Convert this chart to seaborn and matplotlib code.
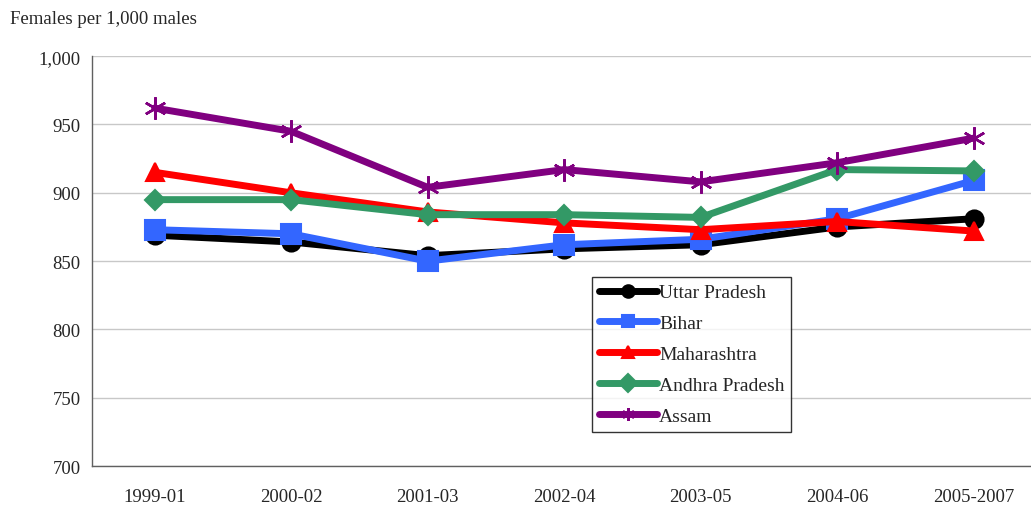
import pandas as pd
import numpy as np
import seaborn as sns
import matplotlib.pyplot as plt
from matplotlib.ticker import FuncFormatter

# Sex ratio values
periods = ['1999-01', '2000-02', '2001-03', '2002-04', '2003-05', '2004-06', '2005-2007']
uttar_pradesh = [869, 864, 854, 859, 862, 875, 881]
bihar = [873, 870, 850, 862, 866, 881, 909]
maharashtra = [915, 900, 886, 878, 873, 879, 872]
andhra_pradesh = [895, 895, 884, 884, 882, 917, 916]
assam = [962, 945, 904, 917, 908, 922, 940]

states = ['Uttar Pradesh', 'Bihar', 'Maharashtra', 'Andhra Pradesh', 'Assam']
values = [uttar_pradesh, bihar, maharashtra, andhra_pradesh, assam]

rows = []
for state, vals in zip(states, values):
    for p, v in zip(periods, vals):
        rows.append({'period': p, 'state': state, 'ratio': v})
df = pd.DataFrame(rows)

colors = {'Uttar Pradesh': '#000000', 'Bihar': '#3366FF', 'Maharashtra': '#FF0000',
          'Andhra Pradesh': '#339966', 'Assam': '#800080'}
markers = {'Uttar Pradesh': 'o', 'Bihar': 's', 'Maharashtra': '^',
           'Andhra Pradesh': 'D', 'Assam': (6, 2, 0)}
msizes = {'Uttar Pradesh': 13, 'Bihar': 14, 'Maharashtra': 13,
          'Andhra Pradesh': 10, 'Assam': 16}

sns.set_style('white')
plt.rcParams['font.family'] = ['Liberation Serif', 'DejaVu Serif']

fig = plt.figure(figsize=(10.31, 5.10), dpi=100)
ax = fig.add_axes([0.089, 0.084, 0.911, 0.804])

for state in states:
    sub = df[df['state'] == state]
    sns.lineplot(data=sub, x='period', y='ratio', ax=ax, color=colors[state],
                 linewidth=5, marker=markers[state], markersize=msizes[state],
                 markeredgecolor=colors[state], markeredgewidth=1.5 if state != 'Assam' else 1.8,
                 label=state, sort=False)

ax.set_ylim(700, 1000)
ax.set_yticks(range(700, 1001, 50))
ax.yaxis.set_major_formatter(FuncFormatter(lambda v, p: f'{int(v):,}'))
ax.set_xlim(-0.46, 6.42)
ax.grid(axis='y', color='#c8c8c8', linewidth=1)
ax.set_axisbelow(True)
for s in ['top', 'right']:
    ax.spines[s].set_visible(False)
for s in ['left', 'bottom']:
    ax.spines[s].set_color('#606060')
    ax.spines[s].set_linewidth(1)
ax.tick_params(axis='both', length=0, labelsize=13.5, pad=8)
ax.tick_params(axis='x', pad=16)
ax.set_xlabel('')
ax.set_ylabel('')

fig.text(0.01, 0.962, 'Females per 1,000 males', fontsize=13.5, ha='left', va='center')

leg = ax.legend(loc='upper left', bbox_to_anchor=(592 / 1031, 1 - 278 / 510),
                bbox_transform=fig.transFigure, frameon=True, fancybox=False,
                fontsize=14, handlelength=3.0, handletextpad=0.1, borderpad=0.35,
                labelspacing=0.68, borderaxespad=0)
leg.get_frame().set_edgecolor('#000000')
leg.get_frame().set_linewidth(1)
for h in leg.legend_handles:
    h.set_markersize(9)

fig.savefig('out.png', dpi=100)
